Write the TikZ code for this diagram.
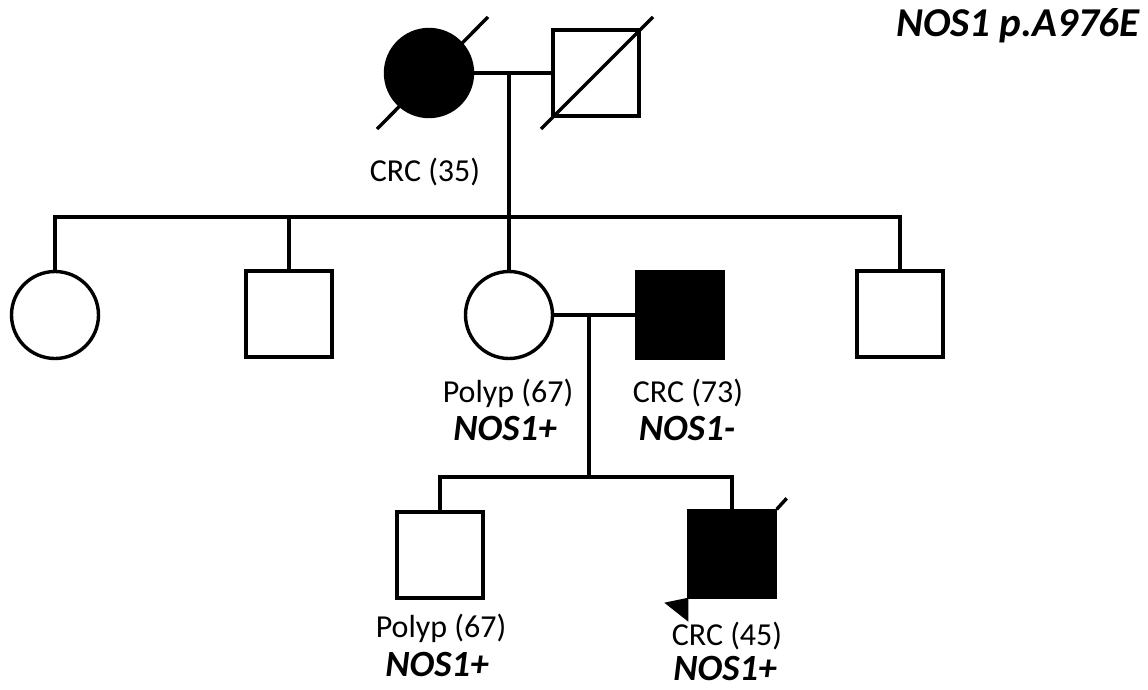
\documentclass[tikz,border=0pt]{standalone}
\usepackage{fontspec}
\setmainfont{Carlito}
\begin{document}
\begin{tikzpicture}[x=1pt,y=-1pt,
  ln/.style={line width=3.4pt},
  fem/.style={circle,draw,line width=3.4pt,minimum size=87pt,inner sep=0pt},
  mal/.style={rectangle,draw,line width=3.4pt,minimum size=86pt,inner sep=0pt},
  aff/.style={fill=black},
  lab/.style={font=\fontsize{32}{38}\selectfont,inner sep=0pt},
  gen/.style={font=\fontsize{37}{42}\selectfont\bfseries\itshape,inner sep=0pt},
  ttl/.style={font=\fontsize{41}{46}\selectfont\bfseries\itshape,inner sep=0pt}]
\useasboundingbox (0,0) rectangle (1148,689);
% Generation I
\node[fem,aff] (f1) at (429,73) {};
\node[mal] (m1) at (596,73) {};
\coordinate (u1) at (509,73);
\coordinate (s1) at (509,217);
% Generation II
\node[fem] (c1) at (55,315) {};
\node[mal] (c2) at (289,314) {};
\node[fem] (c3) at (509,315) {};
\node[mal,aff] (c4) at (680,315) {};
\node[mal] (c5) at (900,314) {};
\coordinate (u2) at (589,316);
\coordinate (s2) at (589,477);
% Generation III
\node[mal] (g1) at (440,555) {};
\node[mal,aff] (g2) at (732,554) {};
% lines
\draw[ln] (f1.east) -- (m1.west);
\draw[ln] (u1) -- (s1);
\draw[ln] (c1.north) |- (s1) -| (c5.north);
\draw[ln] (c2.north) -- (c2.north |- s1);
\draw[ln] (c3.north) -- (c3.north |- s1);
\draw[ln] (c3.east) -- (c4.west);
\draw[ln] (u2) -- (s2);
\draw[ln] (g1.north) |- (s2) -| (g2.north);
% deceased slashes
\draw[ln] ([shift={(-52,56)}]f1.center) -- ([shift={(59,-56)}]f1.center);
\draw[ln] ([shift={(-55,56)}]m1.center) -- ([shift={(57,-56)}]m1.center);
\draw[ln] (g2.north east) -- ([shift={(10,-11)}]g2.north east);
% proband arrow
\fill ([shift={(-23,4)}]g2.south west) -- ([shift={(1,-1)}]g2.south west) -- ([shift={(1,23)}]g2.south west) -- cycle;
% labels
\node[lab] (t1) at (425,172) {CRC (35)};
\node[lab] (t2) at (508,393) {Polyp (67)};
\node[gen] (t3) at (505,428) {NOS1+};
\node[lab] (t4) at (688,393) {CRC (73)};
\node[gen] (t5) at (687,428) {NOS1-};
\node[lab] (t6) at (441,628) {Polyp (67)};
\node[gen] (t7) at (437,664) {NOS1+};
\node[lab] (t8) at (727,636) {CRC (45)};
\node[gen] (t9) at (725,668) {NOS1+};
\node[ttl,anchor=east] (title) at (1140,26) {NOS1 p.A976E};
\end{tikzpicture}
\end{document}
